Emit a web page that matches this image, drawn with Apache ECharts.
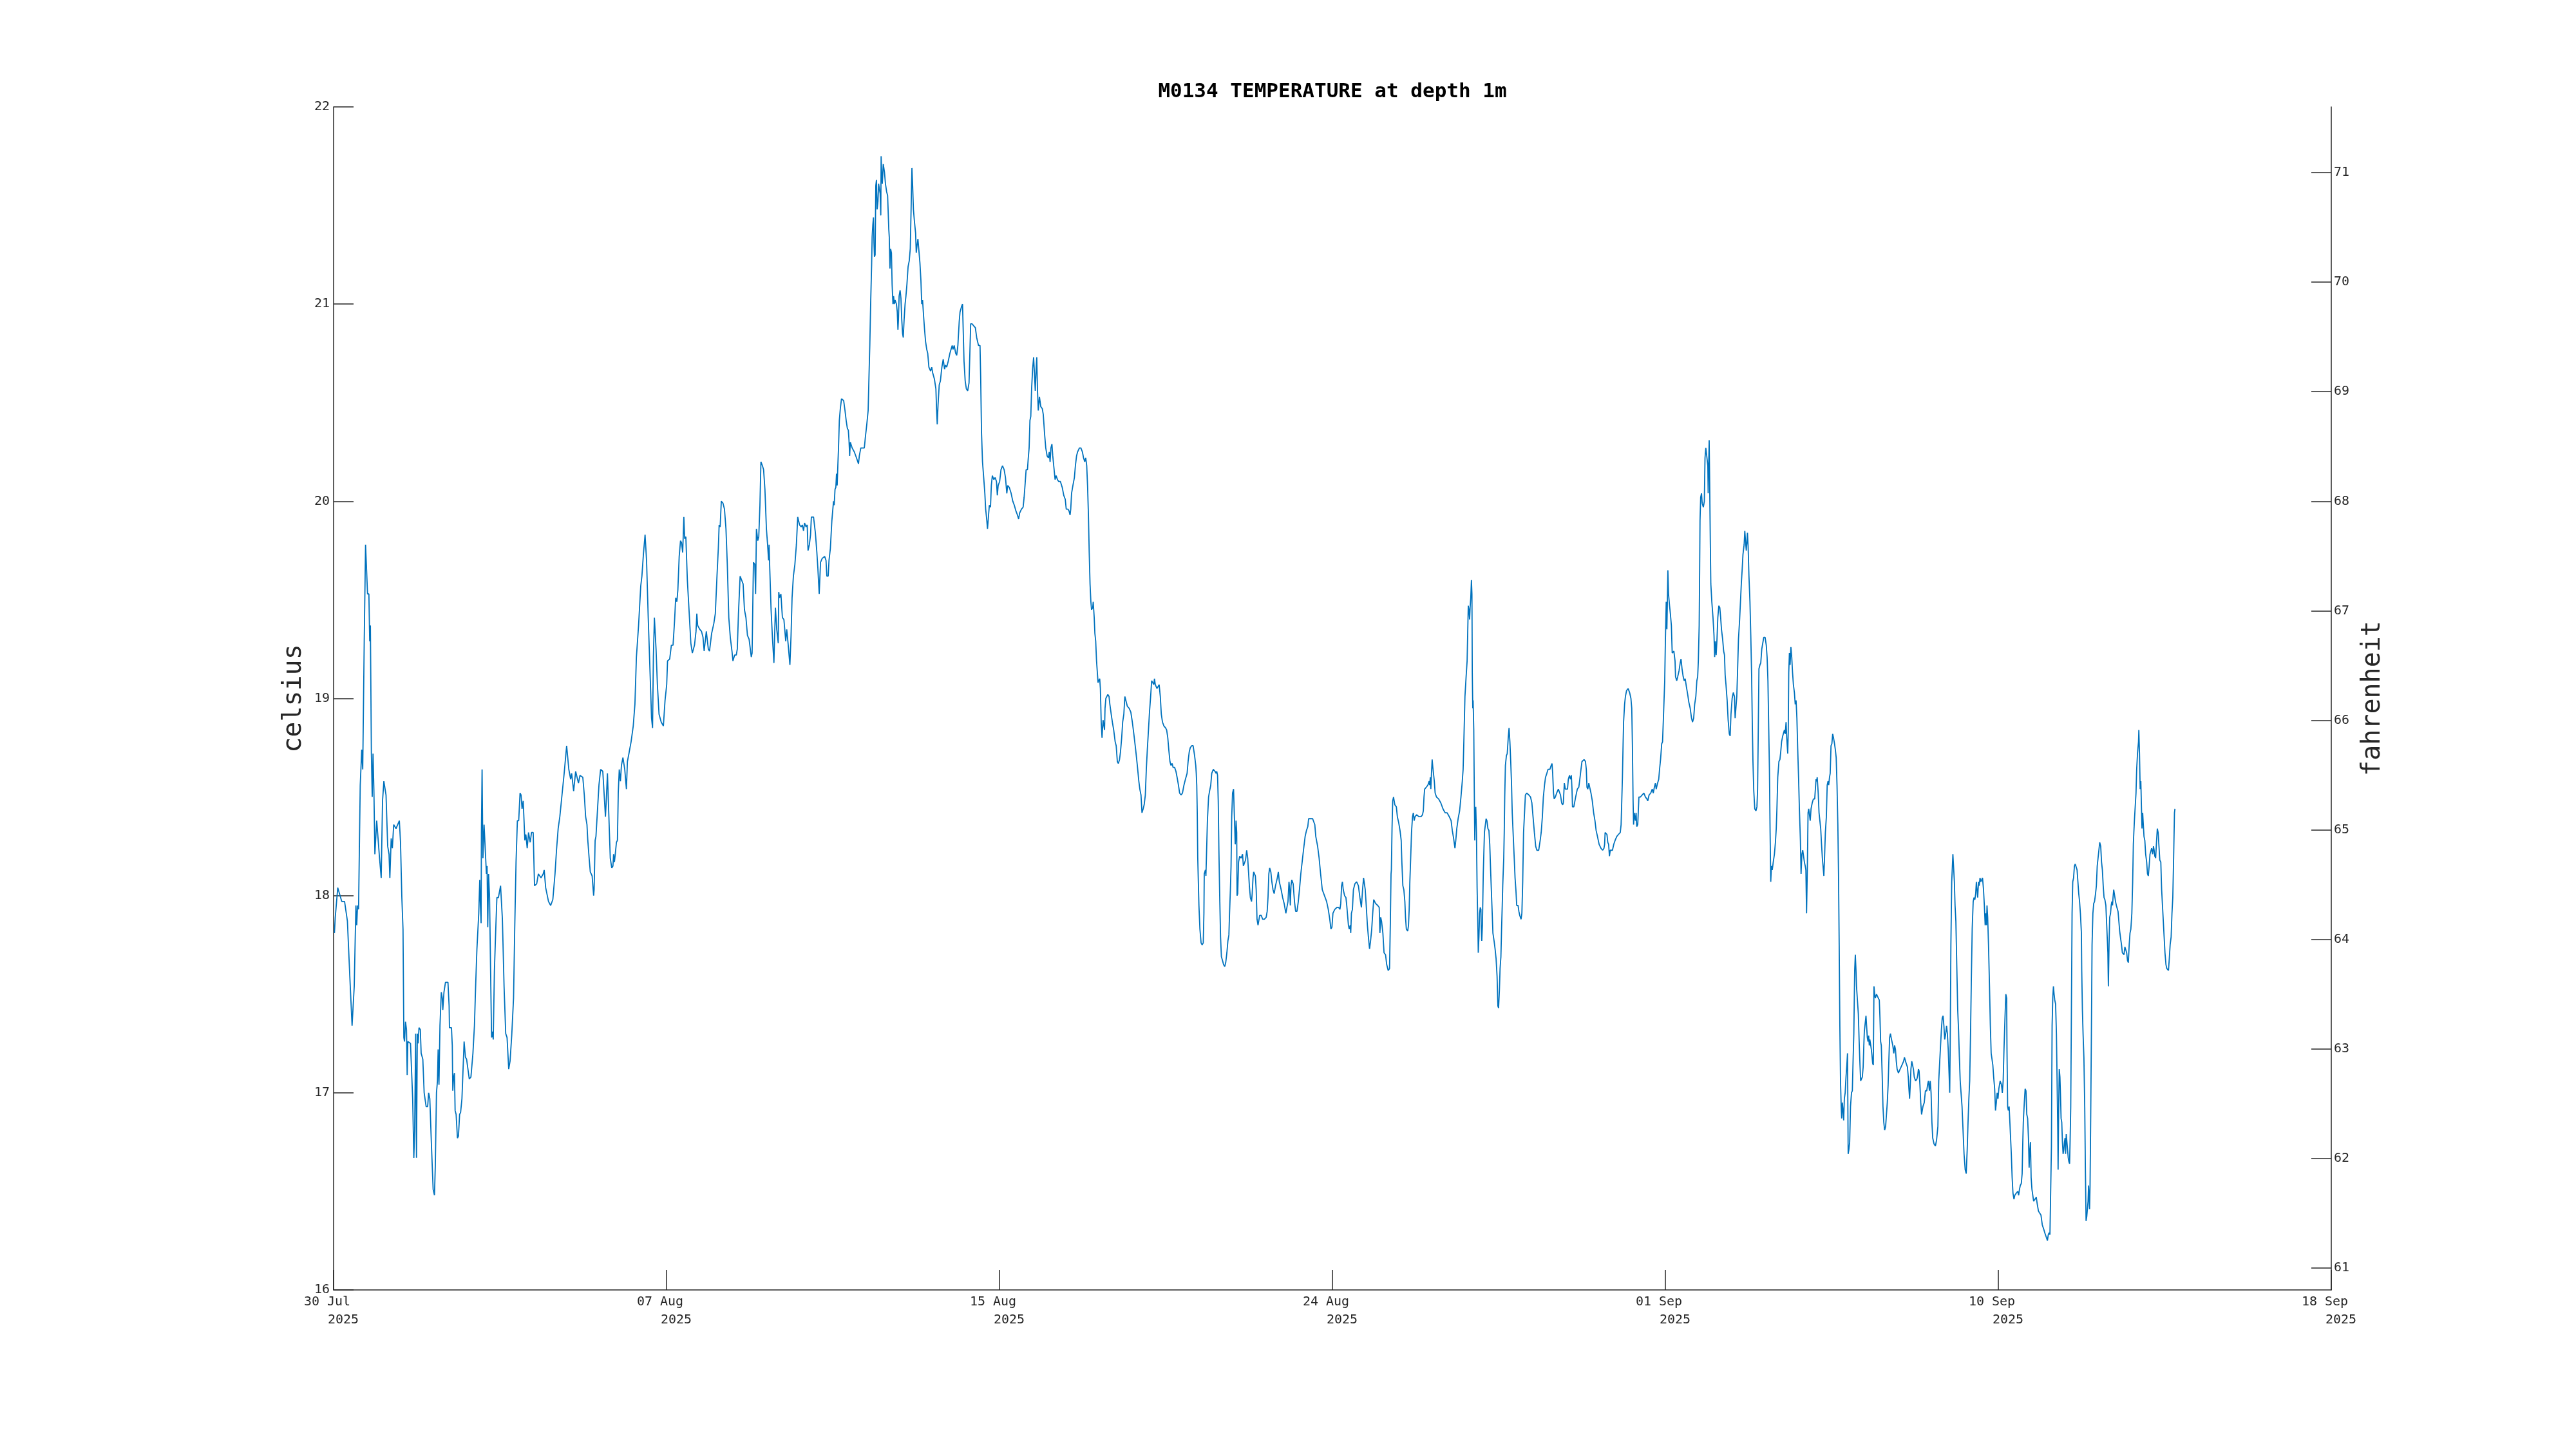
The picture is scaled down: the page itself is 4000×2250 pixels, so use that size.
<!DOCTYPE html>
<html>
<head>
<meta charset="utf-8">
<script src="https://cdn.jsdelivr.net/npm/echarts@6/dist/echarts.min.js"></script>
<style>html,body{margin:0;padding:0;background:#fff}#chart{width:4000px;height:2250px}</style>
</head>
<body>
<div id="chart"></div>
<script>
// Tick labels
const dateLabels = ['30 Jul', '07 Aug', '15 Aug', '24 Aug', '01 Sep', '10 Sep', '18 Sep'];
const yearLabel = '2025';
const fahrenheitTicks = [61, 62, 63, 64, 65, 66, 67, 68, 69, 70, 71];

// Readings: [hours since 30 Jul 2025 00:00, temperature in celsius]
const week1 = [[0.5,17.81],[1.0,17.89],[2.5,18.04],[4.9,17.97],[6.6,17.97],[8.3,17.87],[9.8,17.58],[11.1,17.34],[12.4,17.54],[13.4,17.95],[13.9,17.85],[14.4,17.95],[15.0,17.93],[16.0,18.56],[16.9,18.74],[17.5,18.64],[18.4,19.29],[19.2,19.78],[20.4,19.53],[21.2,19.53],[21.7,19.29],[22.1,19.37],[22.7,18.72],[23.2,18.50],[23.7,18.72],[24.2,18.54],[24.8,18.21],[25.9,18.38],[26.6,18.38],[27.6,18.19],[28.6,18.09],[29.4,18.48],[30.2,18.58],[31.5,18.51],[32.5,18.25],[33.3,18.21],[33.8,18.09],[34.6,18.29],[35.3,18.24],[36.1,18.36],[37.5,18.34],[39.5,18.38],[40.2,18.27],[41.0,17.99],[41.7,17.83],[42.2,17.28],[42.6,17.26],[43.2,17.36],[43.8,17.32],[44.2,17.09],[44.6,17.26],[46.2,17.25],[46.8,17.25],[47.5,16.97],[48.2,16.67],[48.7,16.81],[49.3,17.30],[49.8,16.67],[50.3,17.30],[50.8,17.25],[51.3,17.33],[52.1,17.32],[52.6,17.20],[53.6,17.17],[54.4,17.00],[55.6,16.93],[56.5,16.93],[57.1,17.00],[57.8,16.97],[58.8,16.73],[59.8,16.51],[60.6,16.48],[61.1,16.63],[61.8,17.00],[62.4,17.06],[62.8,17.22],[63.3,17.04],[63.9,17.34],[64.7,17.51],[65.3,17.48],[65.6,17.42],[66.3,17.51],[67.2,17.56],[68.7,17.56],[69.4,17.44],[69.6,17.33],[70.8,17.33],[71.3,17.24],[71.6,17.01],[72.1,17.08],[72.6,17.10],[73.0,16.91],[73.6,16.89],[74.4,16.77],[75.0,16.78],[75.7,16.89],[76.3,16.90],[77.1,16.97],[78.4,17.26],[79.2,17.18],[79.9,17.17],[81.5,17.07],[82.5,17.08],[83.7,17.20],[84.6,17.34],[85.4,17.56],[86.1,17.73],[87.2,17.91],[87.8,18.08],[88.2,17.95],[88.6,17.86],[88.8,18.32],[89.2,18.64],[89.7,18.19],[90.4,18.36],[91.0,18.36],[91.8,18.11],[92.2,18.15],[92.6,17.84],[93.1,18.11],[93.7,17.99],[94.3,17.62],[94.9,17.28],[95.5,17.31],[95.9,17.27],[96.6,17.62],[97.5,17.85],[98.1,17.99],[99.0,17.99],[100.3,18.05],[101.4,17.88],[102.4,17.54],[103.4,17.30],[104.2,17.28],[105.2,17.12],[106.0,17.16],[107.0,17.29],[108.1,17.48],[108.8,17.83],[109.6,18.17],[110.4,18.38],[111.2,18.38],[112.0,18.52],[112.6,18.51],[113.2,18.44],[113.9,18.48],[114.9,18.28],[115.5,18.31],[116.3,18.24],[117.1,18.32],[118.1,18.27],[118.9,18.32],[119.9,18.32],[120.7,18.05],[122.0,18.06],[123.0,18.11],[124.6,18.09],[125.9,18.11],[126.5,18.13],[127.4,18.04],[129.1,17.97],[130.4,17.95],[131.7,17.98],[133.0,18.11],[133.9,18.23],[134.9,18.34],[135.9,18.40],[137.2,18.51],[138.5,18.62],[140.0,18.76],[141.3,18.64],[142.4,18.59],[143.0,18.62],[144.2,18.53],[145.4,18.63],[147.1,18.57]];

const week2 = [[148.0,18.61],[149.7,18.60],[150.6,18.51],[151.4,18.40],[152.2,18.36],[152.7,18.28],[153.5,18.19],[154.2,18.12],[155.3,18.10],[156.2,18.00],[156.5,18.03],[157.1,18.28],[157.6,18.30],[158.7,18.46],[159.4,18.56],[160.4,18.64],[161.7,18.63],[162.2,18.56],[163.3,18.40],[163.9,18.50],[164.5,18.62],[164.9,18.62],[165.6,18.34],[166.2,18.19],[167.1,18.14],[167.8,18.15],[168.2,18.21],[168.7,18.17],[169.2,18.21],[169.9,18.27],[170.5,18.28],[171.0,18.52],[171.6,18.64],[172.3,18.58],[172.9,18.66],[173.8,18.70],[174.9,18.64],[175.9,18.54],[176.5,18.68],[177.4,18.72],[178.7,18.78],[180.0,18.86],[181.0,18.97],[181.9,19.21],[183.2,19.37],[184.5,19.57],[185.2,19.62],[186.1,19.73],[187.1,19.83],[188.0,19.70],[189.0,19.41],[190.1,19.13],[191.0,18.90],[191.6,18.85],[192.1,19.21],[192.7,19.41],[193.7,19.25],[194.5,19.07],[195.5,18.92],[196.8,18.88],[198.1,18.86],[199.1,18.99],[200.1,19.07],[200.6,19.19],[201.9,19.20],[202.9,19.27],[203.9,19.27],[204.8,19.39],[205.5,19.51],[206.2,19.49],[206.8,19.55],[207.6,19.72],[208.4,19.80],[209.0,19.79],[209.7,19.74],[210.4,19.92],[210.9,19.81],[211.6,19.82],[212.5,19.60],[213.5,19.45],[214.6,19.28],[215.5,19.23],[216.8,19.27],[217.7,19.34],[218.2,19.43],[218.7,19.37],[220.0,19.35],[221.0,19.34],[221.9,19.31],[222.6,19.24],[223.9,19.34],[225.1,19.25],[225.8,19.24],[227.1,19.33],[228.4,19.38],[229.3,19.43],[230.3,19.62],[231.1,19.76],[231.6,19.88],[232.2,19.87],[232.9,20.00],[233.9,19.99],[234.8,19.96],[235.7,19.86],[236.5,19.68],[237.4,19.41],[238.3,19.31],[239.3,19.24],[239.9,19.19],[240.9,19.22],[241.9,19.22],[242.5,19.25],[243.2,19.43],[244.2,19.62],[245.1,19.60],[246.0,19.58],[246.8,19.45],[247.7,19.41],[248.6,19.32],[249.6,19.30],[250.9,19.21],[251.4,19.23],[251.8,19.46],[252.2,19.69],[253.0,19.68],[253.5,19.53],[254.0,19.86],[254.8,19.80],[255.4,19.82],[256.1,19.98],[256.7,20.20],[257.6,20.18],[258.3,20.16],[259.1,20.06],[260.0,19.86],[260.7,19.78],[261.3,19.70],[261.6,19.78],[262.0,19.66],[262.8,19.45],[263.6,19.31],[264.5,19.18],[264.9,19.31],[265.4,19.46],[266.2,19.35],[267.1,19.28],[267.4,19.54],[267.9,19.51],[268.7,19.53],[269.6,19.41],[270.5,19.40],[271.6,19.29],[272.2,19.35],[273.1,19.27],[274.1,19.17],[274.8,19.32],[275.4,19.51],[276.2,19.62],[277.1,19.68],[278.0,19.78],[278.8,19.92],[279.9,19.88],[280.9,19.87],[281.6,19.88],[282.3,19.85],[282.9,19.89],[283.8,19.87],[284.5,19.88],[285.0,19.75],[285.8,19.78],[286.5,19.83],[287.0,19.92],[288.3,19.92],[289.4,19.84],[290.3,19.74],[290.9,19.66],[291.7,19.53],[292.5,19.69],[293.5,19.71]];

const week3 = [[294.1,19.71],[295.0,19.72],[295.8,19.70],[296.3,19.62],[297.1,19.62],[297.6,19.70],[298.4,19.76],[299.3,19.90],[300.3,20.00],[300.7,19.98],[301.2,20.06],[301.7,20.07],[302.1,20.14],[302.5,20.08],[302.9,20.18],[303.3,20.27],[303.8,20.41],[304.4,20.47],[305.1,20.52],[306.4,20.51],[307.2,20.46],[307.9,20.41],[308.6,20.37],[309.2,20.36],[309.6,20.31],[310.0,20.23],[310.4,20.30],[311.5,20.27],[312.8,20.25],[314.1,20.22],[315.3,20.19],[315.8,20.23],[316.7,20.27],[318.0,20.27],[318.8,20.27],[319.5,20.33],[320.3,20.39],[321.1,20.46],[321.6,20.63],[322.1,20.79],[322.6,21.00],[323.2,21.20],[323.5,21.34],[323.9,21.40],[324.3,21.44],[324.6,21.31],[324.9,21.24],[325.3,21.25],[325.7,21.60],[326.1,21.63],[326.5,21.48],[327.0,21.52],[327.4,21.61],[327.9,21.61],[328.3,21.56],[328.7,21.45],[328.9,21.75],[329.3,21.65],[329.6,21.61],[330.2,21.71],[330.9,21.67],[331.5,21.61],[332.2,21.57],[332.8,21.55],[333.5,21.38],[333.8,21.34],[334.2,21.18],[334.6,21.28],[335.1,21.26],[335.5,21.10],[336.0,21.00],[336.4,21.04],[336.8,21.00],[337.3,21.02],[338.1,21.00],[338.6,20.96],[339.0,20.87],[339.3,20.92],[339.7,21.04],[340.3,21.07],[340.8,21.03],[341.3,20.92],[341.8,20.85],[342.2,20.83],[342.7,20.92],[343.3,21.00],[343.8,21.04],[344.4,21.10],[345.1,21.19],[345.8,21.22],[346.4,21.28],[346.9,21.48],[347.4,21.69],[347.8,21.61],[348.3,21.48],[348.9,21.42],[349.6,21.36],[350.0,21.26],[350.5,21.30],[351.0,21.33],[351.5,21.28],[352.2,21.21],[352.8,21.12],[353.3,21.00],[353.8,21.02],[354.4,20.94],[355.0,20.87],[355.6,20.81],[356.3,20.77],[356.9,20.75],[357.6,20.68],[358.6,20.66],[359.3,20.68],[359.9,20.65],[360.9,20.62],[361.8,20.57],[362.2,20.47],[362.6,20.39],[363.1,20.49],[363.8,20.59],[364.5,20.61],[365.0,20.65],[365.4,20.68],[366.2,20.72],[367.0,20.67],[367.6,20.69],[368.3,20.68],[369.2,20.71],[370.2,20.75],[370.9,20.77],[371.6,20.79],[372.1,20.77],[372.8,20.79],[373.7,20.75],[374.3,20.74],[375.0,20.79],[375.8,20.91],[376.3,20.96],[377.3,20.99],[377.8,21.00],[378.2,20.87],[378.7,20.71],[379.4,20.61],[380.1,20.57],[380.9,20.56],[381.7,20.60],[382.2,20.75],[382.7,20.90],[383.5,20.90],[384.5,20.89],[385.5,20.88],[386.3,20.83],[387.4,20.79],[388.3,20.79],[388.7,20.63],[389.2,20.35],[389.8,20.20],[390.6,20.11],[391.2,20.04],[391.7,19.96],[392.3,19.91],[392.8,19.86],[393.4,19.86],[393.9,19.98],[394.6,19.97],[395.1,20.08],[395.7,20.13],[396.6,20.11],[397.4,20.12],[398.2,20.10],[398.7,20.03],[399.2,20.08],[400.1,20.10],[400.9,20.16],[401.8,20.18],[402.8,20.16],[403.6,20.12],[404.4,20.04],[404.9,20.08],[405.9,20.07],[407.0,20.04],[408.0,20.00],[408.9,19.98],[409.9,19.95],[410.8,19.93],[411.5,19.91],[412.1,19.94],[413.2,19.96],[414.2,19.97],[414.8,20.02],[415.5,20.10],[416.0,20.16],[416.8,20.16],[417.3,20.22],[417.8,20.27],[418.3,20.41],[418.8,20.43],[419.3,20.57],[419.9,20.67],[420.5,20.73],[421.0,20.65],[421.5,20.56],[422.0,20.67],[422.4,20.73],[422.8,20.57],[423.3,20.46],[424.0,20.53],[424.8,20.48],[425.7,20.47],[426.3,20.44],[427.1,20.34],[427.8,20.27],[428.6,20.23],[429.4,20.22],[429.9,20.25],[430.4,20.20],[430.9,20.27],[431.5,20.29],[432.0,20.23],[432.7,20.17],[433.4,20.11],[434.0,20.13],[434.8,20.11],[435.6,20.10],[436.6,20.10],[437.7,20.07],[438.6,20.03],[439.5,20.01],[440.1,19.96],[441.1,19.96]];

const week4 = [[441.8,19.95],[442.4,19.93],[442.8,19.96],[443.3,20.04],[444.1,20.08],[445.0,20.12],[445.6,20.18],[446.3,20.23],[446.9,20.25],[448.0,20.27],[448.9,20.27],[449.8,20.25],[450.5,20.22],[451.2,20.20],[451.8,20.22],[452.4,20.18],[452.9,20.08],[453.4,19.94],[453.9,19.74],[454.4,19.58],[454.9,19.49],[455.3,19.45],[456.0,19.46],[456.3,19.49],[456.9,19.41],[457.3,19.33],[457.8,19.29],[458.3,19.19],[458.8,19.13],[459.2,19.08],[459.6,19.09],[460.2,19.10],[460.6,19.05],[461.1,18.88],[461.6,18.80],[462.2,18.89],[462.5,18.89],[463.1,18.84],[463.4,18.95],[463.9,19.00],[464.5,19.01],[465.1,19.02],[465.8,19.01],[466.3,18.97],[467.1,18.92],[467.8,18.88],[468.6,18.84],[469.5,18.78],[470.1,18.76],[470.8,18.68],[471.4,18.67],[472.1,18.69],[472.7,18.73],[473.4,18.80],[474.0,18.88],[474.7,18.92],[475.3,19.01],[475.9,18.99],[476.8,18.96],[477.9,18.95],[478.9,18.93],[479.8,18.88],[480.7,18.82],[481.8,18.74],[482.8,18.66],[483.7,18.58],[484.3,18.54],[485.0,18.51],[485.6,18.42],[486.3,18.44],[486.9,18.46],[487.6,18.51],[488.2,18.64],[488.8,18.74],[489.5,18.84],[490.1,18.93],[490.8,19.01],[491.4,19.09],[492.1,19.09],[492.7,19.07],[493.1,19.10],[493.6,19.07],[494.6,19.05],[495.9,19.07],[496.6,19.01],[497.2,18.92],[497.9,18.88],[498.8,18.86],[499.8,18.85],[500.4,18.84],[501.1,18.80],[501.7,18.74],[502.4,18.68],[503.0,18.66],[503.7,18.67],[504.3,18.65],[505.2,18.65],[506.0,18.63],[506.9,18.59],[507.5,18.56],[508.2,18.52],[509.1,18.51],[509.9,18.52],[510.8,18.56],[511.7,18.59],[512.7,18.62],[513.3,18.68],[514.0,18.73],[514.6,18.75],[515.5,18.76],[516.3,18.76],[517.2,18.71],[517.9,18.66],[518.2,18.62],[518.5,18.56],[518.8,18.42],[519.1,18.19],[519.8,17.95],[520.4,17.83],[521.1,17.76],[521.7,17.75],[522.4,17.76],[522.8,17.91],[523.0,18.11],[523.7,18.13],[524.0,18.10],[524.3,18.19],[524.9,18.38],[525.6,18.50],[526.2,18.53],[526.9,18.56],[527.5,18.62],[528.4,18.64],[529.5,18.63],[530.1,18.62],[530.5,18.63],[531.0,18.61],[531.4,18.48],[531.8,18.23],[532.3,17.99],[532.8,17.79],[533.3,17.69],[534.0,17.67],[534.6,17.65],[535.3,17.64],[535.9,17.66],[536.6,17.71],[537.2,17.77],[537.8,17.80],[538.2,17.91],[538.7,18.03],[539.1,18.15],[539.5,18.40],[540.0,18.52],[540.6,18.54],[541.1,18.40],[541.6,18.26],[541.8,18.28],[542.1,18.38],[542.5,18.32],[542.7,18.00],[543.1,18.01],[543.6,18.17],[544.3,18.20],[545.2,18.19],[546.0,18.21],[546.5,18.15],[547.0,18.15],[547.8,18.18],[548.5,18.23],[549.1,18.19],[549.6,18.12],[550.1,18.05],[550.7,17.99],[551.4,17.97],[551.8,18.01],[552.3,18.09],[552.7,18.12],[553.7,18.10],[554.2,18.03],[554.7,17.88],[555.3,17.85],[555.9,17.85],[556.3,17.90],[557.2,17.90],[558.1,17.88],[559.1,17.88],[560.2,17.89],[560.8,17.92],[561.3,17.99],[561.8,18.11],[562.3,18.14],[563.0,18.12],[563.6,18.07],[564.3,18.03],[565.0,18.01],[565.8,18.05],[566.9,18.09],[567.5,18.12],[568.1,18.07],[569.2,18.03],[570.1,17.99],[571.0,17.96],[572.0,17.91],[572.7,17.91],[573.3,17.97],[573.9,18.07],[574.3,18.03],[574.7,17.95],[575.1,18.05],[575.6,18.08],[576.4,18.06],[577.2,17.97],[577.9,17.92],[578.7,17.92],[579.5,17.97],[580.3,18.04],[581.0,18.11],[581.8,18.17],[582.6,18.23],[583.6,18.30],[584.4,18.33],[585.2,18.35],[585.7,18.39],[586.8,18.39],[588.1,18.39]];

const week5 = [[589.4,18.36],[590.0,18.30],[591.1,18.25],[592.0,18.19],[592.9,18.11],[593.9,18.03],[595.2,18.00],[596.5,17.97],[597.5,17.93],[598.4,17.88],[599.1,17.83],[599.7,17.84],[600.3,17.91],[601.4,17.93],[602.7,17.94],[603.7,17.94],[604.5,17.93],[605.0,17.96],[605.5,18.05],[606.0,18.07],[606.5,18.03],[607.3,18.00],[608.1,17.99],[608.6,17.95],[609.1,17.95],[609.6,17.85],[610.1,17.83],[610.7,17.85],[611.0,17.81],[611.4,17.91],[612.0,17.93],[612.6,18.03],[613.5,18.06],[614.5,18.07],[615.6,18.05],[616.5,17.99],[617.4,17.94],[618.1,18.03],[618.7,18.09],[619.2,18.09],[619.7,18.03],[620.3,17.95],[621.0,17.85],[621.6,17.79],[622.3,17.73],[622.9,17.77],[623.6,17.83],[624.2,17.91],[624.8,17.98],[625.9,17.96],[627.2,17.95],[628.1,17.94],[628.5,17.81],[629.0,17.89],[629.5,17.87],[630.3,17.81],[631.0,17.71],[631.9,17.70],[632.6,17.65],[633.5,17.62],[634.3,17.63],[634.8,17.87],[635.2,18.11],[635.4,18.13],[635.8,18.34],[636.2,18.48],[636.7,18.50],[637.5,18.46],[638.4,18.45],[639.0,18.40],[639.8,18.37],[640.6,18.33],[641.3,18.28],[641.7,18.17],[642.3,18.05],[642.9,18.03],[643.5,17.97],[643.9,17.89],[644.4,17.83],[645.2,17.82],[645.7,17.85],[646.1,17.93],[646.5,18.07],[647.0,18.19],[647.5,18.32],[648.1,18.40],[648.6,18.42],[649.1,18.38],[649.6,18.40],[650.6,18.41],[651.9,18.40],[653.2,18.40],[654.1,18.41],[654.6,18.43],[655.0,18.50],[655.4,18.54],[656.4,18.55],[657.3,18.56],[658.1,18.58],[658.4,18.56],[658.8,18.60],[659.1,18.54],[659.5,18.62],[659.9,18.69],[660.3,18.65],[660.7,18.62],[661.2,18.58],[661.7,18.52],[662.5,18.50],[663.8,18.49],[665.1,18.47],[666.4,18.44],[667.7,18.42],[668.9,18.42],[670.2,18.40],[671.3,18.38],[672.0,18.33],[672.8,18.29],[673.6,18.24],[674.1,18.28],[674.7,18.34],[675.5,18.39],[676.4,18.43],[677.2,18.50],[678.0,18.58],[678.5,18.64],[679.0,18.80],[679.6,19.01],[680.3,19.11],[680.9,19.19],[681.3,19.35],[681.6,19.47],[682.0,19.45],[682.4,19.40],[682.7,19.46],[683.1,19.51],[683.5,19.60],[683.8,19.53],[684.0,19.13],[684.3,18.95],[684.5,18.99],[684.9,18.84],[685.2,18.54],[685.5,18.28],[685.7,18.40],[686.1,18.45],[686.5,18.32],[686.9,18.04],[687.4,17.83],[687.6,17.71],[688.0,17.79],[688.4,17.91],[688.8,17.94],[689.2,17.93],[689.4,17.84],[689.7,17.77],[690.1,17.85],[690.6,18.11],[691.3,18.32],[691.6,18.32],[692.3,18.39],[692.8,18.38],[693.4,18.34],[694.0,18.33],[694.5,18.26],[695.1,18.11],[695.8,17.95],[696.4,17.81],[697.1,17.77],[697.7,17.73],[698.3,17.68],[698.9,17.59],[699.4,17.44],[699.8,17.43],[700.3,17.52],[700.7,17.63],[701.2,17.69],[701.6,17.83],[702.0,17.95],[702.3,18.05],[702.9,18.19],[703.2,18.32],[703.5,18.50],[703.9,18.66],[704.5,18.71],[705.0,18.72],[705.6,18.80],[706.1,18.85],[706.6,18.78],[707.1,18.68],[707.6,18.56],[708.0,18.42],[708.7,18.42],[709.2,18.19],[709.7,18.09],[710.2,18.03],[710.7,17.95],[711.5,17.95],[712.0,17.92],[712.5,17.90],[713.3,17.88],[713.8,17.91],[714.3,18.07],[714.8,18.32],[715.4,18.42],[715.9,18.51],[716.7,18.52],[718.0,18.51],[719.0,18.50],[719.8,18.47],[720.5,18.40],[721.3,18.32],[722.1,18.25],[722.8,18.23],[723.9,18.23],[724.8,18.28],[725.4,18.32],[726.1,18.40],[726.7,18.50],[727.4,18.56],[728.0,18.60],[728.8,18.62],[729.5,18.64],[730.6,18.64],[731.4,18.66],[731.9,18.67],[732.3,18.62],[732.8,18.52],[733.2,18.49],[733.9,18.50],[734.7,18.52],[735.7,18.54]];

const week6 = [[736.4,18.54],[737.0,18.51],[737.7,18.47],[738.3,18.46],[738.7,18.47],[739.3,18.57],[739.9,18.54],[741.2,18.54],[741.7,18.59],[742.4,18.61],[743.0,18.59],[743.5,18.61],[743.9,18.54],[744.2,18.45],[745.0,18.45],[746.1,18.50],[747.1,18.54],[748.0,18.55],[748.6,18.59],[749.3,18.64],[749.9,18.68],[751.2,18.69],[752.0,18.68],[752.5,18.64],[752.9,18.55],[753.4,18.54],[754.0,18.57],[754.6,18.57],[755.3,18.52],[756.1,18.48],[756.9,18.42],[757.7,18.38],[758.4,18.33],[759.2,18.30],[760.2,18.26],[761.3,18.24],[762.3,18.23],[763.1,18.24],[763.5,18.26],[763.8,18.32],[764.4,18.32],[764.9,18.31],[765.4,18.27],[765.9,18.26],[766.4,18.20],[766.9,18.23],[767.5,18.23],[768.2,18.23],[769.0,18.26],[769.8,18.28],[770.8,18.30],[771.8,18.31],[772.9,18.32],[773.4,18.36],[773.8,18.48],[774.2,18.60],[774.6,18.77],[774.9,18.88],[775.5,18.97],[776.0,19.01],[776.7,19.04],[777.6,19.05],[778.5,19.03],[779.3,19.00],[779.8,18.95],[780.2,18.76],[780.6,18.48],[780.9,18.36],[781.3,18.42],[781.6,18.40],[782.0,18.38],[782.4,18.42],[782.8,18.35],[783.4,18.36],[784.1,18.50],[785.0,18.50],[786.0,18.51],[787.1,18.52],[788.0,18.50],[788.9,18.49],[789.4,18.48],[790.2,18.51],[791.2,18.52],[792.1,18.54],[792.7,18.52],[793.4,18.55],[794.0,18.57],[794.5,18.54],[795.3,18.57],[796.0,18.59],[796.5,18.64],[797.1,18.69],[797.8,18.77],[798.3,18.78],[798.9,18.92],[799.6,19.09],[800.0,19.29],[800.5,19.49],[800.9,19.35],[801.2,19.49],[801.5,19.65],[801.9,19.53],[802.5,19.47],[803.0,19.43],[803.6,19.37],[804.1,19.23],[804.6,19.23],[805.1,19.24],[805.8,19.19],[806.1,19.11],[806.8,19.09],[807.4,19.11],[808.2,19.14],[808.9,19.18],[809.4,19.20],[810.0,19.15],[810.7,19.11],[811.3,19.09],[811.9,19.10],[812.6,19.06],[813.4,19.02],[814.1,18.98],[814.9,18.95],[815.7,18.90],[816.3,18.88],[817.0,18.90],[817.6,18.97],[818.3,19.01],[818.9,19.09],[819.4,19.11],[819.8,19.19],[820.3,19.37],[820.6,19.66],[820.8,19.90],[821.2,20.02],[821.7,20.04],[822.1,19.99],[822.8,19.97],[823.4,20.00],[823.8,20.22],[824.3,20.27],[825.0,20.27],[825.5,20.18],[825.7,20.04],[826.0,20.18],[826.3,20.31],[826.6,20.10],[827.0,19.78],[827.3,19.58],[827.9,19.49],[828.6,19.41],[829.2,19.32],[829.6,19.21],[830.0,19.29],[830.5,19.22],[831.0,19.30],[831.5,19.41],[832.1,19.47],[832.7,19.46],[833.2,19.41],[833.7,19.35],[834.4,19.30],[835.0,19.24],[835.5,19.22],[835.9,19.12],[836.4,19.07],[837.1,18.99],[837.7,18.89],[838.4,18.82],[838.9,18.81],[839.4,18.92],[840.1,19.00],[840.8,19.03],[841.5,19.01],[841.9,18.90],[842.4,18.90],[842.9,19.01],[843.4,19.15],[843.9,19.30],[844.6,19.40],[845.1,19.49],[845.6,19.58],[846.1,19.65],[846.6,19.73],[847.3,19.78],[847.7,19.85],[848.2,19.79],[848.6,19.75],[849.0,19.75],[849.3,19.84],[849.7,19.77],[850.2,19.62],[850.8,19.49],[851.3,19.32],[851.8,19.12],[852.2,18.88],[852.6,18.68],[853.1,18.53],[853.7,18.44],[854.4,18.43],[855.0,18.45],[855.4,18.54],[855.8,18.84],[856.2,19.15],[856.8,19.17],[857.3,19.18],[857.9,19.25],[858.5,19.28],[859.1,19.31],[859.9,19.31],[860.6,19.27],[861.1,19.21],[861.6,19.09],[862.1,18.84],[862.5,18.64],[862.9,18.32],[863.3,18.07],[863.7,18.15],[864.2,18.13],[864.8,18.17],[865.5,18.21],[866.1,18.27],[866.6,18.34],[867.0,18.44],[867.5,18.60],[868.2,18.68],[868.8,18.69],[869.3,18.73],[869.8,18.78],[870.5,18.81],[871.1,18.81],[871.5,18.84],[872.0,18.82],[872.5,18.88],[872.9,18.80],[873.5,18.72],[873.8,18.83],[874.1,19.13],[874.5,19.23],[874.9,19.17],[875.4,19.26],[875.9,19.21],[876.4,19.13],[876.9,19.07],[877.5,19.03],[878.0,18.97],[878.5,18.99],[879.0,18.90],[879.5,18.74],[880.0,18.60],[880.5,18.44],[881.1,18.28],[881.5,18.11],[882.0,18.21],[882.5,18.23]];

const week7 = [[883.0,18.20],[883.5,18.17],[884.0,18.15],[884.4,18.13],[884.8,17.91],[885.3,18.15],[885.7,18.42],[886.1,18.44],[886.6,18.44],[887.0,18.38],[887.5,18.44],[888.2,18.47],[888.9,18.49],[889.7,18.49],[890.1,18.54],[890.5,18.59],[890.9,18.58],[891.2,18.60],[891.8,18.52],[892.3,18.42],[892.8,18.38],[893.3,18.34],[893.8,18.26],[894.3,18.19],[894.9,18.19],[895.2,18.10],[895.6,18.19],[896.1,18.32],[896.7,18.40],[897.2,18.56],[897.7,18.58],[898.1,18.56],[898.6,18.60],[899.0,18.62],[899.5,18.76],[900.0,18.77],[900.5,18.82],[901.0,18.80],[901.6,18.77],[902.1,18.74],[902.6,18.70],[903.1,18.56],[903.6,18.36],[904.0,18.11],[904.4,17.75],[904.8,17.34],[905.2,17.06],[905.6,16.93],[905.9,16.87],[906.3,16.95],[906.7,16.91],[907.1,16.86],[907.5,16.97],[908.0,17.00],[908.5,17.08],[909.0,17.14],[909.4,17.20],[909.8,16.69],[910.2,16.71],[910.7,16.75],[911.2,16.93],[911.8,17.00],[912.3,17.01],[912.8,17.18],[913.2,17.30],[913.7,17.62],[914.1,17.70],[914.5,17.62],[914.8,17.54],[915.4,17.54],[915.9,17.40],[916.4,17.26],[916.9,17.14],[917.3,17.06],[917.8,17.06],[918.3,17.08],[918.8,17.13],[919.2,17.24],[919.5,17.31],[920.1,17.31],[920.5,17.39],[920.9,17.39],[921.3,17.28],[921.7,17.26],[922.1,17.29],[922.5,17.24],[922.8,17.27],[923.2,17.25],[923.7,17.22],[924.1,17.19],[924.5,17.15],[924.9,17.14],[925.3,17.54],[925.7,17.50],[926.1,17.48],[926.8,17.50],[927.9,17.48],[928.5,17.47],[928.9,17.38],[929.3,17.26],[929.7,17.24],[930.2,17.10],[930.7,16.93],[931.2,16.85],[931.7,16.81],[932.3,16.83],[932.8,16.89],[933.3,16.95],[933.8,17.04],[934.3,17.18],[934.7,17.28],[935.2,17.30],[935.6,17.28],[936.1,17.26],[936.6,17.24],[937.2,17.20],[937.7,17.24],[938.2,17.22],[938.7,17.16],[939.2,17.12],[940.0,17.10],[941.0,17.12],[942.1,17.14],[943.1,17.16],[943.6,17.18],[944.6,17.15],[945.4,17.13],[945.9,17.08],[946.3,17.02],[946.7,16.97],[947.1,17.04],[947.5,17.12],[948.0,17.16],[948.5,17.16],[949.0,17.12],[949.5,17.08],[950.3,17.06],[951.1,17.07],[951.6,17.09],[952.0,17.12],[952.4,17.11],[952.9,17.04],[953.4,16.95],[953.9,16.89],[954.7,16.93],[955.5,16.95],[956.2,17.01],[957.0,17.01],[957.5,17.04],[958.0,17.06],[958.6,17.01],[959.1,17.06],[959.6,17.00],[960.1,16.85],[960.6,16.77],[961.4,16.74],[962.2,16.73],[962.9,16.76],[963.7,16.83],[964.2,17.06],[964.8,17.16],[965.3,17.24],[965.8,17.32],[966.3,17.38],[966.8,17.39],[967.3,17.34],[967.8,17.27],[968.4,17.30],[968.9,17.34],[969.4,17.30],[969.9,17.22],[970.4,17.10],[970.8,17.00],[971.1,17.26],[971.5,17.75],[972.0,18.07],[972.4,18.15],[972.7,18.21],[973.3,18.21],[973.6,18.07],[974.0,17.95],[974.5,17.87],[975.1,17.62],[975.6,17.42],[976.1,17.32],[976.6,17.18],[977.1,17.06],[977.6,17.00],[978.2,16.93],[978.8,16.81],[979.4,16.69],[980.1,16.61],[980.7,16.59],[981.3,16.71],[981.8,16.85],[982.3,16.97],[982.8,17.06],[983.3,17.30],[983.8,17.58],[984.3,17.83],[984.9,17.97],[985.4,17.99],[985.9,17.98],[986.4,18.01],[986.8,18.07],[987.2,18.03],[987.6,17.99],[988.1,18.07],[988.5,18.05],[989.0,18.09],[989.5,18.07],[990.5,18.09],[991.1,18.03],[991.6,17.95],[992.1,17.85],[992.5,17.91],[992.9,17.85],[993.2,17.95],[993.6,17.89],[994.1,17.75],[994.7,17.54],[995.2,17.34],[995.7,17.20],[996.2,17.20],[996.7,17.14],[997.2,17.08],[997.8,17.02],[998.3,16.91],[998.8,16.95],[999.3,17.00],[999.8,16.97],[1000.3,17.02],[1001.1,17.06],[1001.9,17.04],[1002.4,17.00],[1002.9,17.06],[1003.4,17.22],[1004.0,17.38],[1004.5,17.50],[1005.0,17.48],[1005.2,17.22],[1005.6,16.93],[1006.0,16.91],[1006.5,16.93],[1007.2,16.93],[1007.8,16.69],[1008.3,16.57],[1008.8,16.49],[1009.4,16.46],[1009.9,16.48],[1010.7,16.49],[1011.7,16.50],[1012.2,16.48],[1012.7,16.51],[1013.2,16.53],[1013.8,16.54],[1014.3,16.59],[1014.7,16.75],[1015.0,16.85],[1015.6,16.95],[1016.1,17.02],[1016.6,17.01],[1017.1,16.89],[1017.6,16.87],[1018.1,16.77],[1018.5,16.62],[1018.9,16.71],[1019.3,16.75],[1019.7,16.57],[1020.2,16.51],[1020.7,16.48],[1021.2,16.45],[1022.0,16.46],[1022.8,16.47],[1023.3,16.44],[1024.1,16.40],[1024.8,16.39],[1025.6,16.38],[1026.4,16.33],[1027.2,16.31],[1027.9,16.29],[1028.7,16.27],[1029.5,16.25]];

const week8 = [[1030.0,16.28],[1030.5,16.29],[1031.0,16.28],[1031.5,16.28],[1031.9,16.73],[1032.3,17.34],[1032.7,17.48],[1033.1,17.54],[1033.5,17.50],[1033.9,17.47],[1034.4,17.45],[1034.9,17.30],[1035.3,17.06],[1035.7,16.81],[1035.9,16.61],[1036.2,16.89],[1036.6,17.12],[1037.0,17.08],[1037.3,17.00],[1037.7,16.87],[1038.1,16.85],[1038.5,16.75],[1038.9,16.69],[1039.3,16.71],[1039.7,16.75],[1040.1,16.77],[1040.4,16.69],[1040.8,16.79],[1041.2,16.75],[1041.6,16.71],[1042.0,16.67],[1042.4,16.65],[1042.8,16.64],[1043.1,16.75],[1043.5,16.93],[1043.9,17.42],[1044.3,17.91],[1044.7,18.07],[1045.2,18.09],[1045.7,18.15],[1046.2,18.16],[1046.8,18.16],[1047.3,18.13],[1047.8,18.07],[1048.3,18.01],[1048.8,17.97],[1049.3,17.91],[1049.9,17.81],[1050.1,17.62],[1050.5,17.42],[1050.9,17.30],[1051.4,17.18],[1051.9,16.93],[1052.3,16.61],[1052.7,16.35],[1053.1,16.37],[1053.5,16.41],[1053.9,16.45],[1054.2,16.53],[1054.8,16.41],[1055.1,16.53],[1055.5,16.89],[1055.9,17.30],[1056.3,17.75],[1056.8,17.91],[1057.3,17.96],[1057.8,17.97],[1058.4,18.01],[1058.9,18.05],[1059.4,18.15],[1059.9,18.19],[1060.4,18.23],[1060.9,18.27],[1061.5,18.25],[1062.0,18.17],[1062.5,18.13],[1063.0,18.05],[1063.5,17.99],[1064.0,17.98],[1064.6,17.95],[1065.1,17.85],[1065.5,17.77],[1065.8,17.71],[1066.1,17.54],[1066.5,17.75],[1066.9,17.89],[1067.4,17.91],[1067.8,17.95],[1068.2,17.97],[1068.6,17.95],[1068.9,17.99],[1069.3,18.03],[1069.8,18.03],[1070.4,17.97],[1070.9,17.95],[1071.4,17.95],[1071.9,17.92],[1072.4,17.87],[1072.9,17.82],[1073.5,17.78],[1074.0,17.75],[1074.5,17.71],[1075.0,17.71],[1075.5,17.70],[1076.0,17.74],[1076.5,17.74],[1077.1,17.71],[1077.6,17.67],[1078.1,17.66],[1078.6,17.75],[1079.1,17.81],[1079.6,17.83],[1080.2,17.91],[1080.7,18.07],[1081.1,18.26],[1081.4,18.32],[1081.8,18.39],[1082.3,18.39],[1082.7,18.52],[1083.1,18.64],[1083.6,18.72],[1084.2,18.78],[1084.4,18.84],[1084.8,18.72],[1085.2,18.54],[1085.6,18.58],[1086.0,18.44],[1086.3,18.34],[1086.7,18.42],[1087.1,18.36],[1087.5,18.30],[1088.0,18.28],[1088.5,18.21],[1089.1,18.17],[1089.6,18.11],[1090.1,18.10],[1090.6,18.15],[1091.1,18.21],[1091.6,18.21],[1092.1,18.24],[1092.7,18.21],[1093.2,18.25],[1093.6,18.23],[1094.0,18.20],[1094.5,18.19],[1095.0,18.27],[1095.5,18.34],[1096.0,18.32],[1096.5,18.25],[1097.0,18.18],[1097.6,18.17],[1098.1,18.03],[1098.6,17.95],[1099.1,17.87],[1099.6,17.79],[1100.1,17.71],[1100.7,17.65],[1101.2,17.63],[1101.7,17.63],[1102.2,17.62],[1102.7,17.68],[1103.2,17.75],[1103.8,17.79],[1104.3,17.91],[1104.8,17.99],[1105.3,18.19],[1105.8,18.42],[1106.1,18.44]];

const readings = [].concat(week1, week2, week3, week4, week5, week6, week7, week8);

const FONT = '"DejaVu Sans Mono", monospace';
const AXIS_COLOR = '#262626';

const chart = echarts.init(document.getElementById('chart'), null, { renderer: 'canvas' });

const option = {
  animation: false,
  backgroundColor: '#ffffff',
  grid: { left: 518, right: 380, top: 166, bottom: 247, containLabel: false },
  graphic: [{
    type: 'text',
    x: 2069,
    y: 143,
    style: {
      text: 'M0134 TEMPERATURE at depth 1m',
      fontFamily: FONT,
      fontWeight: 'bold',
      fontSize: 31,
      fill: '#000000',
      align: 'center',
      verticalAlign: 'middle'
    }
  }],
  xAxis: {
    type: 'value',
    min: 0,
    max: 1200,
    interval: 200,
    axisLine: { show: true, lineStyle: { color: AXIS_COLOR, width: 1.5 } },
    axisTick: { show: true, inside: true, length: 31, lineStyle: { color: AXIS_COLOR, width: 1.5 } },
    splitLine: { show: false },
    axisLabel: {
      margin: 5,
      showMinLabel: true,
      showMaxLabel: true,
      hideOverlap: false,
      formatter: function (v) {
        const i = Math.round(v / 200);
        return '{a|' + dateLabels[i] + '}\n{b|' + yearLabel + '}';
      },
      rich: {
        a: { fontFamily: FONT, fontSize: 20, color: AXIS_COLOR, lineHeight: 28, padding: [0, 20, 0, 0] },
        b: { fontFamily: FONT, fontSize: 20, color: AXIS_COLOR, lineHeight: 28, padding: [0, 0, 0, 30] }
      }
    }
  },
  yAxis: [{
    type: 'value',
    position: 'left',
    min: 16,
    max: 22,
    interval: 1,
    name: 'celsius',
    nameLocation: 'middle',
    nameRotate: 90,
    nameGap: 38,
    nameTextStyle: { fontFamily: FONT, fontSize: 40, color: AXIS_COLOR },
    axisLine: { show: true, lineStyle: { color: AXIS_COLOR, width: 1.5 } },
    axisTick: { show: true, inside: true, length: 31, lineStyle: { color: AXIS_COLOR, width: 1.5 } },
    splitLine: { show: false },
    axisLabel: { margin: 6, fontFamily: FONT, fontSize: 20, color: AXIS_COLOR }
  }, {
    type: 'value',
    position: 'right',
    min: 60.8,
    max: 71.6,
    name: 'fahrenheit',
    nameLocation: 'middle',
    nameRotate: 90,
    nameGap: 45,
    nameTextStyle: { fontFamily: FONT, fontSize: 40, color: AXIS_COLOR },
    axisLine: { show: true, lineStyle: { color: AXIS_COLOR, width: 1.5 } },
    axisTick: { show: true, inside: true, length: 31, customValues: fahrenheitTicks, lineStyle: { color: AXIS_COLOR, width: 1.5 } },
    splitLine: { show: false },
    axisLabel: { margin: 4, fontFamily: FONT, fontSize: 20, color: AXIS_COLOR, customValues: fahrenheitTicks }
  }],
  series: [{
    type: 'line',
    xAxisIndex: 0,
    yAxisIndex: 0,
    data: readings,
    showSymbol: false,
    symbol: 'none',
    silent: true,
    lineStyle: { color: '#0072BD', width: 1.8 }
  }]
};

chart.setOption(option);
</script>
</body>
</html>
